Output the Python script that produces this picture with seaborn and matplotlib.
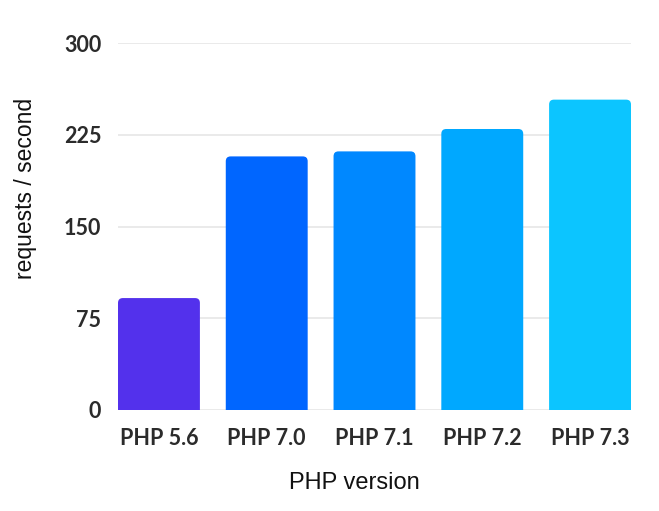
import matplotlib
matplotlib.use("Agg")
import matplotlib.pyplot as plt
import seaborn as sns
import pandas as pd
from matplotlib.patches import FancyBboxPatch

# Data
versions = ["PHP 5.6", "PHP 7.0", "PHP 7.1", "PHP 7.2", "PHP 7.3"]
requests_per_sec = [91.5, 207.3, 211.4, 229.7, 253.7]
bar_colors = ["#5331ec", "#0066ff", "#0088ff", "#00a8ff", "#0cc5ff"]
y_ticks = [0, 75, 150, 225, 300]

df = pd.DataFrame({"version": versions, "rps": requests_per_sec})

sns.set_style("white")
fig = plt.figure(figsize=(6.59, 5.11), dpi=100)
ax = fig.add_axes([118 / 659, 1 - 410 / 511, 513 / 659, 367 / 511])

sns.barplot(data=df, x="version", y="rps", hue="version", palette=bar_colors,
            width=0.76, legend=False, ax=ax, saturation=1)

ax.set_xlim(-0.38, len(versions) - 1 + 0.38)
ax.set_ylim(0, 300)
ax.set_yticks(y_ticks)
ax.yaxis.grid(True, color="#e6e6e6", linewidth=1.2)
ax.set_axisbelow(True)
for s in ax.spines.values():
    s.set_visible(False)

# round the top corners of the bars
r = 0.045
aspect = (367 / 300) ** -1 * 108
for p in list(ax.patches):
    x, w, h = p.get_x(), p.get_width(), p.get_height()
    fc = p.get_facecolor()
    p.remove()
    rb = FancyBboxPatch((x, -10), w, h + 10,
                        boxstyle=f"round,pad=0,rounding_size={r}",
                        mutation_aspect=aspect, facecolor=fc, edgecolor="none")
    ax.add_patch(rb)

ax.tick_params(axis="both", length=0, labelcolor="#2b2b2b")
ax.tick_params(axis="y", pad=12)
ax.tick_params(axis="x", pad=13)
for lab in ax.get_xticklabels() + ax.get_yticklabels():
    lab.set_fontfamily("Lato")
    lab.set_fontweight("bold")
    lab.set_fontsize(15.5)

ax.set_xlabel("PHP version", fontsize=17, family="Liberation Sans", color="#111111")
ax.set_ylabel("requests / second", fontsize=16.5, family="Liberation Sans", color="#111111")
ax.xaxis.set_label_coords(0.46, -0.17)
ax.yaxis.set_label_coords(-0.157, 0.605)

fig.savefig("out.png", dpi=100)
